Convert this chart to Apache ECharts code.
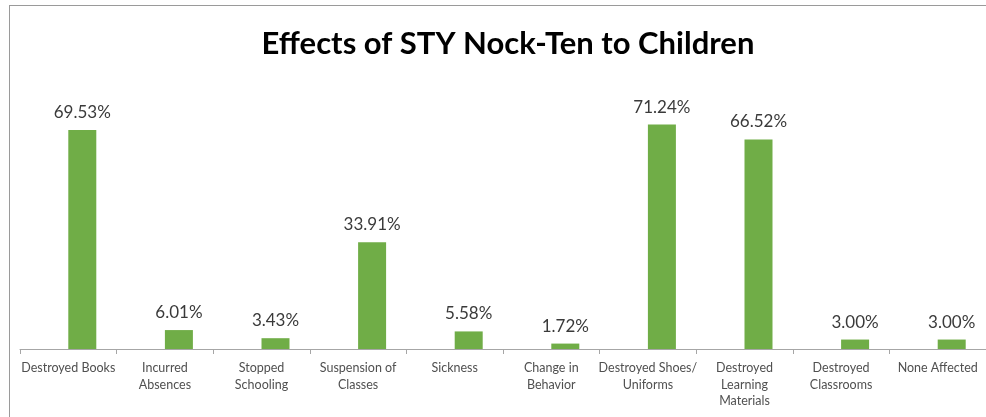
<!DOCTYPE html>
<html>
<head>
<meta charset="utf-8">
<script src="https://cdn.jsdelivr.net/npm/echarts@6/dist/echarts.min.js"></script>
<style>
  html, body { margin: 0; padding: 0; background: #fff; overflow: hidden; }
  #frame { position: absolute; left: 9px; top: 5px; width: 1000px; height: 430px;
           border-left: 1px solid #9a9a9a; border-top: 1px solid #9a9a9a; }
  #chart { position: absolute; left: 0; top: 0; width: 986px; height: 417px; }
</style>
</head>
<body>
<div id="frame"></div>
<div id="chart"></div>
<script>
// Effects of the super typhoon on schoolchildren (share of respondents, %)
const categories = [
  'Destroyed Books',
  'Incurred\nAbsences',
  'Stopped\nSchooling',
  'Suspension of\nClasses',
  'Sickness',
  'Change in\nBehavior',
  'Destroyed Shoes/\nUniforms',
  'Destroyed\nLearning\nMaterials',
  'Destroyed\nClassrooms',
  'None Affected'
];
const percentages = [69.53, 6.01, 3.43, 33.91, 5.58, 1.72, 71.24, 66.52, 3.00, 3.00];
// empty companion series that occupies the left slot in each category
const blankSeries = categories.map(() => null);

const chart = echarts.init(document.getElementById('chart'));
chart.setOption({
  animation: false,
  title: {
    text: 'Effects of STY Nock-Ten to Children',
    left: 503, textAlign: 'center', top: 23,
    textStyle: { fontFamily: 'Lato', fontWeight: 'bold', fontSize: 31, color: '#000' }
  },
  grid: { left: 20, width: 975, top: 97, height: 252 },
  xAxis: {
    type: 'category',
    data: categories,
    axisLine: { lineStyle: { color: '#a6a6a6', width: 1 } },
    axisTick: { show: true, length: 5, lineStyle: { color: '#a6a6a6' } },
    axisLabel: {
      interval: 0, margin: 11, color: '#505050',
      fontFamily: 'Lato', fontSize: 12.5, lineHeight: 16.5
    }
  },
  yAxis: { type: 'value', min: 0, max: 80, show: false, splitLine: { show: false } },
  series: [
    { type: 'bar', name: 'blank', data: blankSeries, barWidth: 28, barGap: '0%' },
    {
      type: 'bar', name: 'Effects', data: percentages, barWidth: 28, barGap: '0%',
      itemStyle: { color: '#70ad47' },
      label: {
        show: true, position: 'top', distance: 9, color: '#3a3a3a',
        fontFamily: 'Lato', fontSize: 17,
        formatter: p => p.value.toFixed(2) + '%'
      }
    }
  ]
});
</script>
</body>
</html>
